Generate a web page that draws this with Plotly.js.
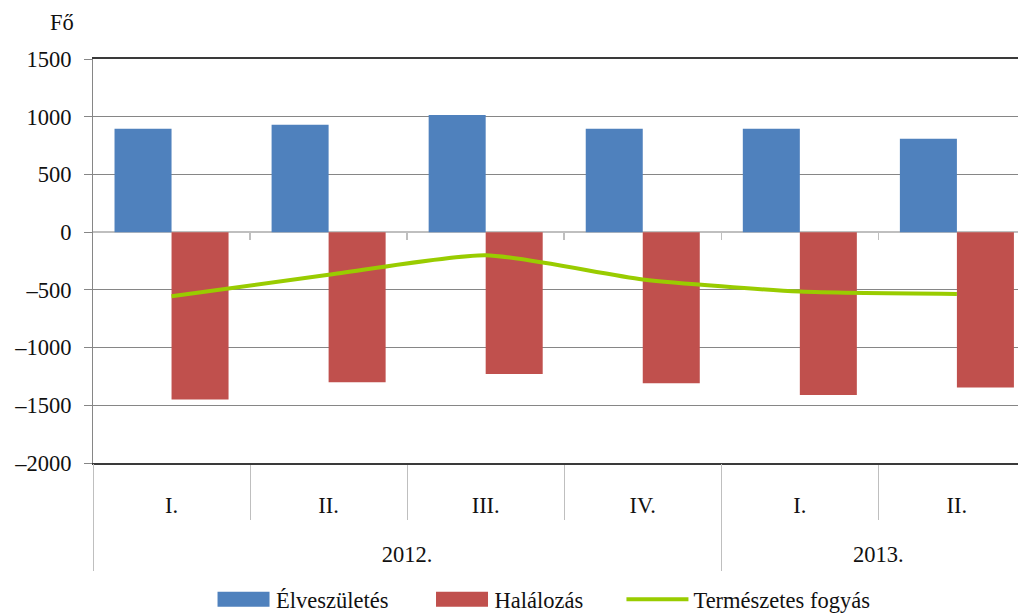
<!DOCTYPE html>
<html>
<head>
<meta charset="utf-8">
<script src="https://cdn.plot.ly/plotly-3.0.1.min.js"></script>
<style>html,body{margin:0;padding:0;background:#fff;}#chart{width:1018px;height:614px;}</style>
</head>
<body>
<div id="chart"></div>
<script>
var quarters = ["I.", "II.", "III.", "IV.", "I.", "II."];
var years = ["2012.", "2013."];
var quartersPerYear = [4, 2];
var births = [895, 930, 1015, 895, 895, 810];
var deaths = [-1450, -1300, -1230, -1310, -1410, -1345];
var naturalDecrease = [-555, -370, -200, -410, -515, -535];
var yTickVals = [1500, 1000, 500, 0, -500, -1000, -1500, -2000];
var yTickText = ["1500", "1000", "500", "0", "–500", "–1000", "–1500", "–2000"];

var FONT = "Liberation Serif, Times New Roman, serif";
var FS = 22.5;

// category positions on the axis (index of each quarter)
var xIdx = quarters.map(function (q, i) { return i; });
var boundaries = xIdx.slice(0, -1).map(function (i) { return i + 0.5; });
boundaries.unshift(-0.5);
// year groups: centres and left edges
var yearCentres = [], yearEdges = [], start = 0;
quartersPerYear.forEach(function (n) {
  yearEdges.push(start - 0.5);
  yearCentres.push(start + (n - 1) / 2);
  start += n;
});
var XRANGE = [-0.5, 5.389];

var traces = [
  {type: "bar", name: "Élveszületés", x: xIdx, y: births, marker: {color: "#4F81BD"}, legend: "legend"},
  {type: "bar", name: "Halálozás", x: xIdx, y: deaths, marker: {color: "#C0504D"}, legend: "legend2"},
  {type: "scatter", mode: "lines", name: "Természetes fogyás", x: xIdx, y: naturalDecrease,
   line: {color: "#99CC00", width: 4, shape: "spline", smoothing: 0.6}, legend: "legend3"},
  {type: "scatter", mode: "markers", x: [0], y: [0], xaxis: "x2", marker: {opacity: 0},
   showlegend: false, hoverinfo: "skip"},
  {type: "scatter", mode: "markers", x: [0], y: [0], xaxis: "x3", marker: {opacity: 0},
   showlegend: false, hoverinfo: "skip"}
];

function legendAt(x, itemwidth) {
  return {orientation: "h", x: x, xanchor: "left", y: -0.338, yanchor: "middle",
          itemwidth: itemwidth, bgcolor: "rgba(0,0,0,0)",
          font: {family: FONT, size: FS, color: "#111"}};
}

var layout = {
  width: 1018, height: 614,
  margin: {l: 93, r: 0, t: 59, b: 151, autoexpand: false},
  paper_bgcolor: "#fff", plot_bgcolor: "#fff",
  font: {family: FONT, size: FS, color: "#111"},
  barmode: "group", bargap: 0.274, bargroupgap: 0,
  showlegend: true,
  legend: legendAt(0.1276, 55),
  legend2: legendAt(0.3638, 55),
  legend3: legendAt(0.5713, 62),
  xaxis: {
    range: XRANGE, automargin: false,
    tickmode: "array", tickvals: xIdx, ticktext: quarters, ticks: "",
    ticklabelstandoff: 21,
    minor: {tickmode: "array", tickvals: boundaries, ticks: "outside", ticklen: 55,
            tickcolor: "#bfbfbf", tickwidth: 1, showgrid: false},
    showline: true, linecolor: "#3a3a3a", linewidth: 2, mirror: true,
    showgrid: false, zeroline: false,
    tickfont: {family: FONT, size: FS, color: "#111"}
  },
  xaxis2: {
    overlaying: "x", anchor: "free", position: 0.5714, side: "bottom",
    range: XRANGE, tickmode: "array", tickvals: boundaries.slice(1), ticks: "outside", ticklen: 7,
    tickcolor: "#bfbfbf", tickwidth: 1.5, showticklabels: false, showgrid: false,
    zeroline: false, showline: false
  },
  xaxis3: {
    overlaying: "x", anchor: "y", side: "bottom",
    range: XRANGE, tickmode: "array", tickvals: yearCentres, ticktext: years, ticks: "",
    ticklabelstandoff: 75,
    minor: {tickmode: "array", tickvals: yearEdges, ticks: "outside", ticklen: 107,
            tickcolor: "#bfbfbf", tickwidth: 1, showgrid: false},
    showgrid: false, zeroline: false, showline: false,
    tickfont: {family: FONT, size: FS, color: "#111"}
  },
  yaxis: {
    range: [-2000, 1500], tickvals: yTickVals, ticktext: yTickText, automargin: false,
    showgrid: true, gridcolor: "#868686", gridwidth: 1,
    zeroline: true, zerolinecolor: "#bfbfbf", zerolinewidth: 1.5,
    showline: true, linecolor: "#868686", linewidth: 1,
    ticks: "outside", ticklen: 8, tickcolor: "#868686",
    ticklabelstandoff: 8,
    tickfont: {family: FONT, size: FS, color: "#111"}
  },
  annotations: [{
    text: "Fő", xref: "paper", yref: "paper", x: -0.033, y: 1.09, xanchor: "center", yanchor: "middle",
    showarrow: false, font: {family: FONT, size: FS, color: "#111"}
  }]
};

Plotly.newPlot("chart", traces, layout, {displayModeBar: false, staticPlot: true}).then(function (gd) {
  // widen the bar legend swatches to the reference's broad rectangles
  gd.querySelectorAll(".legendpoints path").forEach(function (p) {
    if (p.getAttribute("d") === "M6,6H-6V-6H6Z") {
      p.setAttribute("d", "M26,7.5H-26V-7.5H26Z");
    }
  });
});
</script>
</body>
</html>
